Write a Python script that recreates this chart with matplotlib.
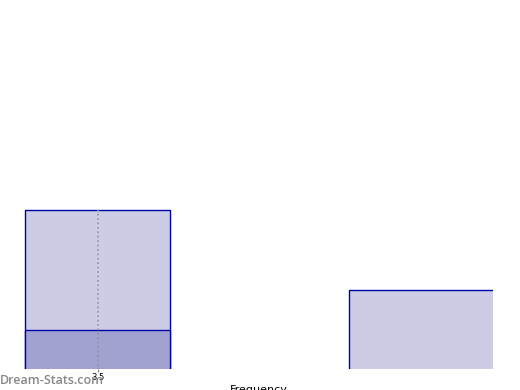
import matplotlib
matplotlib.use("Agg")
import matplotlib.pyplot as plt

# histogram bins (left edge, width) and counts
bin_left = [3.0, 5.228]
bin_width = [1.0, 1.0]
counts = [4, 2]
# highlighted part of first bin
hl_left = [3.0]
hl_width = [1.0]
hl_count = [1]
mean_value = 3.5

fig = plt.figure(figsize=(5.2, 3.9), dpi=100)
ax = fig.add_axes([24 / 520, 21 / 390, 469 / 520, 369 / 390])

ax.bar(bin_left, counts, width=bin_width, align="edge",
       color="#ccccE6", edgecolor="#0000a8", linewidth=1.0)
ax.bar(hl_left, hl_count, width=hl_width, align="edge",
       color="#a2a2d0", edgecolor="#0000a8", linewidth=1.0)
ax.vlines(mean_value, 0, counts[0], colors="#9090a8", linestyles=":", linewidth=1.2)

ax.set_xlim(2.993, 6.222)
ax.set_ylim(0.02, 9.28)
ax.set_xticks([mean_value])
ax.set_xticklabels(["3.5"], fontsize=6)
ax.tick_params(axis="x", length=2, pad=1, color="#888888")
ax.set_yticks([])
ax.set_xlabel("Frequency", fontsize=8, labelpad=2)
for s in ax.spines.values():
    s.set_visible(False)

fig.text(0.0, 10 / 390, "Dream-Stats.com", color="#888888", fontsize=9,
         fontfamily="Open Sans", fontweight="semibold", va="center", ha="left")

fig.savefig("out.png", dpi=100)
